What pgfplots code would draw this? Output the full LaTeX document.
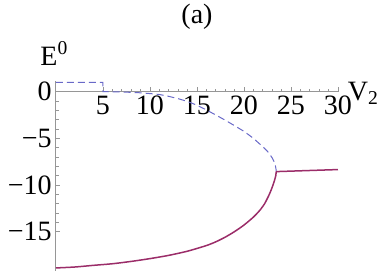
\documentclass[border=0pt]{standalone}
\usepackage{fontspec}
\setmainfont{Liberation Serif}
\usepackage{pgfplots}
\pgfplotsset{compat=1.18}
\definecolor{cblue}{RGB}{105,105,200}
\definecolor{cred}{RGB}{155,45,105}
\definecolor{axgray}{RGB}{150,150,150}
\begin{document}
\begin{tikzpicture}[font=\fontsize{14}{16}\selectfont]
\begin{axis}[
  at={(0,0)}, anchor=origin,
  scale only axis, width=141pt, height=94.65pt,
  xmin=0, xmax=30, ymin=-19.2, ymax=1.1,
  axis lines=middle,
  axis line style={axgray, -, line width=0.5pt},
  every tick/.style={axgray, line width=0.4pt},
  tick align=inside,
  major tick length=2.2pt, minor tick length=1.3pt,
  xtick={5,10,15,20,25,30},
  xticklabels={5,10,15,20,25,30},
  ytick={-15,-10,-5,0},
  yticklabels={−15,−10,−5,0},
  minor tick num=4,
  hide obscured x ticks=false, hide obscured y ticks=false,
  /pgf/number format/assume math mode=true,
  x tick label style={inner sep=0.5pt, yshift=-1.5pt},
  y tick label style={inner sep=0.5pt, xshift=-1.5pt},
  clip=false,
]
\addplot[cblue, line width=0.5pt, dash pattern=on 3.5pt off 2pt] coordinates {
 (0,1) (5,1) (5,0) (6,-0.01) (7,-0.03) (8,-0.07) (9,-0.12) (10,-0.2) (11,-0.3)
 (12,-0.5) (13,-0.75) (14,-1.05) (15,-1.45) (16,-1.95) (17,-2.5) (18,-3.05)
 (19,-3.65) (20,-4.25) (21,-5.0) (21.5,-5.45) (22,-5.9) (22.5,-6.4) (22.8,-6.8)
 (23,-7.1) (23.2,-7.5) (23.33,-7.9) (23.4,-8.25) (23.43,-8.57)
};
\addplot[cred, line width=0.75pt, smooth, tension=0.4] coordinates {
 (0,-18.9) (2,-18.8) (4,-18.62) (6,-18.45) (8,-18.2) (10,-17.9) (12,-17.55)
 (14,-17.1) (16,-16.5) (17,-16.1) (18,-15.6) (19,-15.0) (20,-14.3) (21,-13.45)
 (21.7,-12.7) (22.2,-12.0) (22.7,-11.0) (23.0,-10.25) (23.25,-9.5) (23.38,-9.0)
 (23.43,-8.57)
};
\addplot[cred, line width=0.75pt] coordinates {(23.43,-8.57) (30,-8.35)};
\node[anchor=base west, inner sep=0pt] at (axis cs:-1.7,2.86) {E\textsuperscript{0}};
\node[anchor=base west, inner sep=0pt] at (axis cs:31.0,-0.9) {V\textsubscript{2}};
\node[anchor=base, inner sep=0pt] at (axis cs:15,7.36) {(a)};
\end{axis}
\path[use as bounding box] (-28pt,-90.15pt) rectangle (163pt,45.85pt);
\end{tikzpicture}
\end{document}
